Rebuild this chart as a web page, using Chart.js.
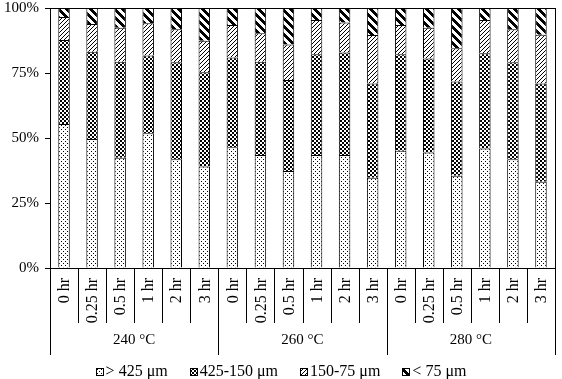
<!DOCTYPE html>
<html>
<head>
<meta charset="utf-8">
<script src="https://cdn.jsdelivr.net/npm/chart.js@4"></script>
<style>
  html, body { margin: 0; padding: 0; background: #fff; }
  #c { display: block; }
</style>
</head>
<body>
<canvas id="c" width="562" height="379"></canvas>
<script>
/* data */
const groups = ['240 °C', '260 °C', '280 °C'];
const hours  = ['0 hr', '0.25 hr', '0.5 hr', '1 hr', '2 hr', '3 hr'];
const yTicks = [0, 25, 50, 75, 100];

const gt425  = [55.4, 49.6, 42.4, 51.8, 41.8, 39.0, 46.4, 43.5, 37.3, 43.5, 43.5, 34.7, 45.1, 44.4, 35.5, 46.0, 41.8, 33.2];
const mid150 = [32.3, 33.6, 36.9, 29.9, 37.3, 36.3, 34.6, 35.8, 35.0, 38.7, 39.4, 36.3, 37.1, 36.2, 36.2, 36.6, 37.3, 37.8];
const fine75 = [8.8, 10.6, 13.1, 12.4, 12.7, 12.1, 12.5, 11.0, 13.7, 13.2, 11.5, 18.6, 11.3, 11.8, 12.8, 12.8, 12.7, 18.7];
const lt75   = [3.5, 6.2, 7.6, 5.9, 8.2, 12.6, 6.5, 9.7, 14.0, 4.6, 5.6, 10.4, 6.5, 7.6, 15.5, 4.6, 8.2, 10.3];

const FONT = "'Liberation Serif', 'Times New Roman', serif";

/* pixel patterns */
function tile(size, pixels){
  const cv = document.createElement('canvas');
  cv.width = cv.height = size;
  const g = cv.getContext('2d');
  g.fillStyle = '#fff'; g.fillRect(0, 0, size, size);
  g.fillStyle = '#000';
  pixels.forEach(([x, y]) => g.fillRect(x, y, 1, 1));
  return document.createElement('canvas').getContext('2d').createPattern(cv, 'repeat');
}
const dots = tile(4, [[1,1],[3,3]]);
const checker = tile(4, [[0,0],[1,0],[0,1],[1,1],[2,2],[3,2],[2,3],[3,3]]);
const thin = tile(4, [[3,0],[2,1],[1,2],[0,3]]);
const thickPx = [];
for (let y = 0; y < 8; y++) for (let k = 0; k < 4; k++) thickPx.push([(y + k) % 8, y]);
const thick = tile(8, thickPx);

const labels = groups.flatMap(g => hours.map(h => h + ' ' + g));

const ds = (label, data, fill) => ({
  label, data, backgroundColor: fill, borderColor: '#000', borderWidth: 1,
  barPercentage: 0.41, categoryPercentage: 1
});

/* two-level x labels, frame and legend */
const xLabels = {
  id: 'xLabels',
  afterDraw(chart){
    const {ctx, chartArea: a, scales: {x}} = chart;
    const n = labels.length;
    ctx.save();
    ctx.strokeStyle = '#000';
    ctx.lineWidth = 1;
    // frame
    ctx.strokeRect(Math.round(a.left) + 0.5, Math.round(a.top) + 0.5,
                   Math.round(a.right - a.left), Math.round(a.bottom - a.top));
    // separators
    for (let i = 0; i <= n; i++){
      let b;
      if (i === 0) b = a.left;
      else if (i === n) b = a.right;
      else b = (x.getPixelForValue(i - 1) + x.getPixelForValue(i)) / 2;
      const end = i % hours.length === 0 ? a.bottom + 87 : a.bottom + 55;
      const px = Math.round(b) + 0.5;
      ctx.beginPath(); ctx.moveTo(px, a.bottom); ctx.lineTo(px, end); ctx.stroke();
    }
    // hour labels
    ctx.fillStyle = '#000';
    ctx.font = '16px ' + FONT;
    ctx.textAlign = 'right';
    ctx.textBaseline = 'middle';
    for (let i = 0; i < n; i++){
      ctx.save();
      ctx.translate(x.getPixelForValue(i) + 1, a.bottom + 10);
      ctx.rotate(-Math.PI / 2);
      ctx.fillText(hours[i % hours.length], 0, 0);
      ctx.restore();
    }
    // group labels
    ctx.font = '15px ' + FONT;
    ctx.textAlign = 'center';
    groups.forEach((g, gi) => {
      const c = (x.getPixelForValue(gi * hours.length) + x.getPixelForValue(gi * hours.length + hours.length - 1)) / 2;
      ctx.fillText(g, c, a.bottom + 72);
    });
    // legend
    const sets = chart.data.datasets;
    const box = 8, gap = 2, spacing = 22;
    ctx.font = '16px ' + FONT;
    ctx.textAlign = 'left';
    const widths = sets.map(d => box + gap + ctx.measureText(d.label).width);
    const total = widths.reduce((s, w) => s + w, 0) + spacing * (sets.length - 1);
    let lx = chart.width / 2 - total / 2;
    const ly = 372;
    sets.forEach((d, i) => {
      ctx.fillStyle = d.backgroundColor;
      ctx.fillRect(Math.round(lx), ly - 4, box, box);
      ctx.strokeRect(Math.round(lx) + 0.5, ly - 4 + 0.5, box - 1, box - 1);
      ctx.fillStyle = '#000';
      ctx.fillText(d.label, lx + box + gap, ly);
      lx += widths[i] + spacing;
    });
    ctx.restore();
  }
};

new Chart(document.getElementById('c'), {
  type: 'bar',
  data: {
    labels,
    datasets: [
      ds('> 425 μm', gt425, dots),
      ds('425-150 μm', mid150, checker),
      ds('150-75 μm', fine75, thin),
      ds('< 75 μm', lt75, thick)
    ]
  },
  options: {
    responsive: false,
    animation: false,
    devicePixelRatio: 1,
    layout: { padding: { top: 8, right: 7, left: 0, bottom: 0 } },
    plugins: {
      tooltip: { enabled: false },
      legend: { display: false }
    },
    scales: {
      x: {
        stacked: true,
        ticks: { display: false },
        grid: { display: false },
        border: { display: false },
        afterFit: s => { s.height = 111; }
      },
      y: {
        stacked: true,
        min: 0, max: 100,
        afterBuildTicks: s => { s.ticks = yTicks.map(v => ({ value: v })); },
        ticks: {
          color: '#000',
          font: { family: FONT, size: 15 },
          padding: 6,
          callback: v => v + '%'
        },
        grid: { drawOnChartArea: false, drawTicks: true, tickLength: 5, color: '#000' },
        border: { color: '#000' },
        afterFit: s => { s.width = 50; s.paddingTop = 0; s.paddingBottom = 0; }
      }
    }
  },
  plugins: [xLabels]
});
</script>
</body>
</html>
